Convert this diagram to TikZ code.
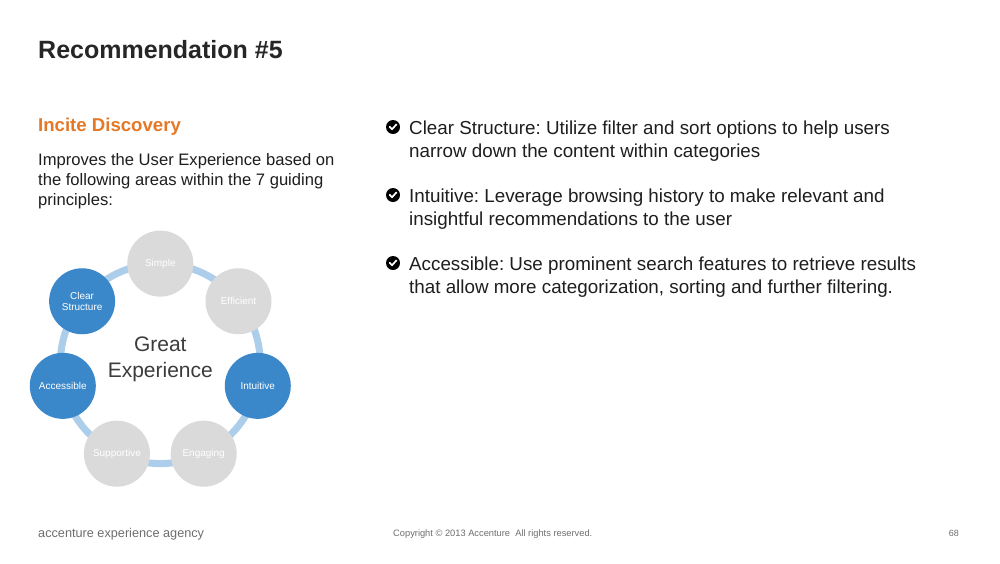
\documentclass[tikz,border=0pt]{standalone}
\usepackage{fontspec}
\setmainfont{Liberation Sans}
\usetikzlibrary{backgrounds}
\frenchspacing
\definecolor{ttl}{RGB}{38,38,38}
\definecolor{org}{RGB}{228,120,38}
\definecolor{txt}{RGB}{30,30,30}
\definecolor{cgray}{RGB}{218,218,218}
\definecolor{cblue}{RGB}{58,135,201}
\definecolor{ringc}{RGB}{172,206,235}
\definecolor{gexp}{RGB}{60,60,60}
\definecolor{foot}{RGB}{110,110,110}
\begin{document}
\begin{tikzpicture}[x=1pt,y=1pt,
  lbl/.style={anchor=base west, inner sep=0pt},
  gcirc/.style={circle, fill=cgray, minimum size=66pt, inner sep=0pt, text=white,
    font=\fontsize{10}{10.5}\selectfont, align=center},
  bcirc/.style={gcirc, fill=cblue},
  ring/.style={draw=ringc, line width=7pt},
  chk/.style={circle, fill=black, minimum size=14pt, inner sep=0pt},
  tick/.style={draw=white, line width=1.7pt, line cap=round, line join=round},
  bodyA/.style={lbl, text=txt, font=\fontsize{16.6}{20}\selectfont},
  bodyB/.style={lbl, text=txt, font=\fontsize{18.8}{23}\selectfont}]
\useasboundingbox (0,0) rectangle (1000,-563);
% title and left text
\node[lbl, text=ttl, font=\bfseries\fontsize{25}{30}\selectfont] (title) at (38,-58) {Recommendation \#5};
\node[lbl, text=org, font=\bfseries\fontsize{18.6}{22}\selectfont] (sub) at (38,-131) {Incite Discovery};
\node[bodyA] (l1) at (38,-165) {Improves the User Experience based on};
\node[bodyA] (l2) at (38,-185) {the following areas within the 7 guiding};
\node[bodyA] (l3) at (38,-205) {principles:};
% wheel
\coordinate (C) at (160.3,-363.6);
\node[gcirc] (simple) at ([shift={(90:100)}]C) {Simple};
\node[gcirc] (efficient) at ([shift={(38.5714:100)}]C) {Efficient};
\node[bcirc] (intuitive) at ([shift={(-12.8571:100)}]C) {Intuitive};
\node[gcirc] (engaging) at ([shift={(-64.2857:100)}]C) {Engaging};
\node[gcirc] (supportive) at ([shift={(-115.7143:100)}]C) {Supportive};
\node[bcirc] (accessible) at ([shift={(-167.1429:100)}]C) {Accessible};
\node[bcirc] (clear) at ([shift={(141.4286:100)}]C) {Clear\\Structure};
\node[text=gexp, font=\fontsize{21}{26}\selectfont, align=center, inner sep=0pt] (great) at (160.3,-359) {Great\\Experience};
\begin{scope}[on background layer]
\fill[white] (0,0) rectangle (1000,-563);
\draw[ring] (simple.center) arc[start angle=90, end angle=38.5714, radius=100pt];
\draw[ring] (efficient.center) arc[start angle=38.5714, end angle=-12.8571, radius=100pt];
\draw[ring] (intuitive.center) arc[start angle=-12.8571, end angle=-64.2857, radius=100pt];
\draw[ring] (engaging.center) arc[start angle=-64.2857, end angle=-115.7143, radius=100pt];
\draw[ring] (supportive.center) arc[start angle=-115.7143, end angle=-167.1429, radius=100pt];
\draw[ring] (accessible.center) arc[start angle=-167.1429, end angle=-218.5714, radius=100pt];
\draw[ring] (clear.center) arc[start angle=141.4286, end angle=90, radius=100pt];
\end{scope}
% bullets
\node[chk] (k1) at (393,-127) {};
\draw[tick] ([shift={(-3.3,0.2)}]k1.center) -- ([shift={(-1,-2.3)}]k1.center) -- ([shift={(3.4,2.6)}]k1.center);
\node[bodyB] (b1a) at (409,-134) {Clear Structure: Utilize filter and sort options to help users};
\node[bodyB] (b1b) at (409,-157) {narrow down the content within categories};
\node[chk] (k2) at (393,-195) {};
\draw[tick] ([shift={(-3.3,0.2)}]k2.center) -- ([shift={(-1,-2.3)}]k2.center) -- ([shift={(3.4,2.6)}]k2.center);
\node[bodyB] (b2a) at (409,-202) {Intuitive: Leverage browsing history to make relevant and};
\node[bodyB] (b2b) at (409,-225) {insightful recommendations to the user};
\node[chk] (k3) at (393,-263) {};
\draw[tick] ([shift={(-3.3,0.2)}]k3.center) -- ([shift={(-1,-2.3)}]k3.center) -- ([shift={(3.4,2.6)}]k3.center);
\node[bodyB] (b3a) at (409,-270) {Accessible: Use prominent search features to retrieve results};
\node[bodyB] (b3b) at (409,-293) {that allow more categorization, sorting and further filtering.};
% footer
\node[lbl, text=foot, font=\fontsize{12.7}{15}\selectfont] (brand) at (38,-537) {accenture experience agency};
\node[lbl, text=foot, font=\fontsize{9.3}{11}\selectfont] (copy) at (393,-536) {Copyright © 2013 Accenture\ \ All rights reserved.};
\node[anchor=base east, inner sep=0pt, text=foot, font=\fontsize{9}{11}\selectfont] (page) at (959,-536) {68};
\end{tikzpicture}
\end{document}
